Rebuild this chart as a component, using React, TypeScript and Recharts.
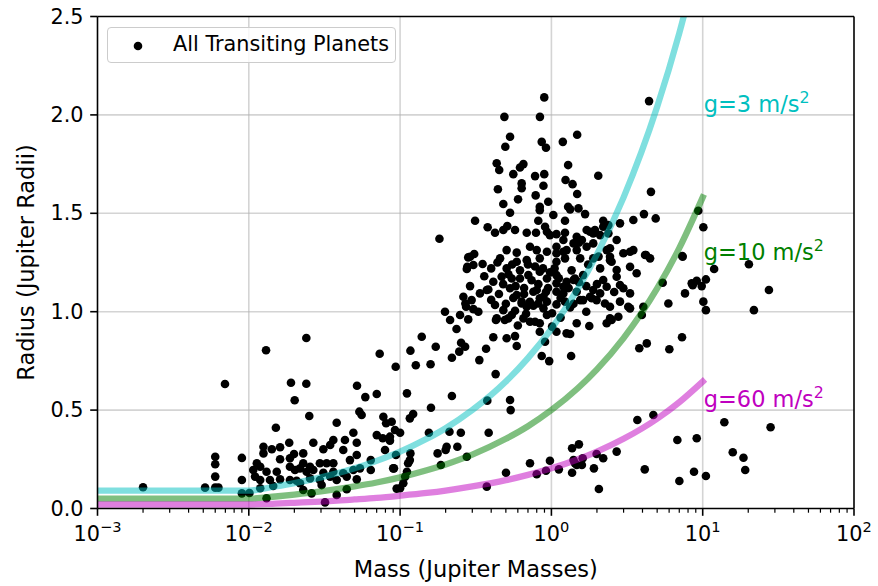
import React from 'react';
import {
  ComposedChart,
  XAxis,
  YAxis,
  Scatter,
  Line,
  ReferenceLine,
  ReferenceDot,
  Legend,
  Label,
} from 'recharts';

const FONT = '"DejaVu Sans", "Liberation Sans", sans-serif';

// Planet masses (Jupiter masses) and radii (Jupiter radii), grouped by mass range.
const planetsBelowTenth: [number, number][] = [
  [0.002, 0.108], [0.00696, 0.633], [0.00514, 0.106], [0.006, 0.263], [0.006, 0.225], [0.006, 0.162],
  [0.006, 0.106], [0.0063, 0.106], [0.009, 0.257], [0.009, 0.145], [0.009, 0.077], [0.0101, 0.079],
  [0.013, 0.804], [0.024, 0.866], [0.019, 0.639], [0.024, 0.634], [0.0201, 0.55], [0.0251, 0.47],
  [0.0151, 0.41], [0.0733, 0.786], [0.0935, 0.72], [0.0519, 0.624], [0.0589, 0.566], [0.0701, 0.582],
  [0.0381, 0.436], [0.0538, 0.492], [0.0557, 0.475], [0.0775, 0.466], [0.0808, 0.433], [0.088, 0.441],
  [0.0925, 0.399], [0.0491, 0.385], [0.0701, 0.373], [0.0768, 0.357], [0.0857, 0.344], [0.0795, 0.297],
  [0.09, 0.204], [0.0949, 0.101], [0.064, 0.246], [0.064, 0.196], [0.0432, 0.348], [0.0362, 0.348],
  [0.0345, 0.323], [0.0125, 0.314], [0.0142, 0.301], [0.0161, 0.311], [0.0185, 0.334], [0.0229, 0.28],
  [0.0267, 0.334], [0.0311, 0.301], [0.0421, 0.297], [0.0517, 0.334], [0.0113, 0.23], [0.0125, 0.28],
  [0.0161, 0.25], [0.0187, 0.255], [0.0199, 0.277], [0.0229, 0.23], [0.0254, 0.212], [0.0295, 0.23],
  [0.0327, 0.23], [0.0362, 0.23], [0.0466, 0.246], [0.0517, 0.272], [0.0107, 0.196], [0.0119, 0.212],
  [0.0131, 0.187], [0.0153, 0.187], [0.0187, 0.212], [0.0202, 0.196], [0.0218, 0.204], [0.0241, 0.187],
  [0.0267, 0.196], [0.0311, 0.182], [0.0362, 0.187], [0.0421, 0.179], [0.0491, 0.196], [0.0543, 0.204],
  [0.011, 0.162], [0.0119, 0.145], [0.0138, 0.145], [0.0161, 0.148], [0.0187, 0.145], [0.0207, 0.141],
  [0.0254, 0.153], [0.0295, 0.145], [0.0345, 0.162], [0.0381, 0.145], [0.0444, 0.162], [0.0517, 0.148],
  [0.0119, 0.103], [0.0145, 0.114], [0.0218, 0.128], [0.0229, 0.094], [0.026, 0.077], [0.0303, 0.119],
  [0.0381, 0.069], [0.0444, 0.098], [0.0131, 0.052], [0.0319, 0.031], [0.0857, 0.365], [0.0939, 0.272],
  [0.0911, 0.204],
];

const planetsBelowOne: [number, number][] = [
  [0.139, 0.873], [0.117, 0.802], [0.127, 0.728], [0.159, 0.733], [0.172, 0.822], [0.22, 0.766],
  [0.246, 0.797], [0.253, 0.842], [0.269, 0.822], [0.334, 0.754], [0.37, 0.812], [0.413, 0.87],
  [0.428, 0.683], [0.111, 0.585], [0.22, 0.572], [0.16, 0.512], [0.122, 0.48], [0.116, 0.458],
  [0.1, 0.385], [0.155, 0.385], [0.212, 0.39], [0.252, 0.385], [0.377, 0.548], [0.385, 0.385],
  [0.533, 0.551], [0.538, 0.5], [0.177, 0.28], [0.203, 0.314], [0.2, 0.297], [0.239, 0.314],
  [0.276, 0.263], [0.186, 0.221], [0.117, 0.28], [0.116, 0.246], [0.113, 0.23], [0.111, 0.187],
  [0.108, 0.162], [0.105, 0.128], [0.1, 0.103], [0.374, 0.111], [0.501, 0.182], [0.722, 0.23],
  [0.8, 0.174], [0.921, 0.192], [0.978, 0.243], [0.29, 1.279], [0.278, 1.228], [0.351, 1.242],
  [0.29, 1.13], [0.262, 1.076], [0.27, 1.042], [0.297, 1.059], [0.337, 1.093], [0.374, 1.11],
  [0.198, 1.0], [0.214, 0.958], [0.249, 0.983], [0.282, 0.961], [0.329, 1.0], [0.236, 0.912],
  [0.43, 0.958], [0.481, 1.008], [0.519, 0.966], [0.575, 1.005], [0.636, 1.042], [0.653, 0.966],
  [0.722, 0.949], [0.78, 0.949], [0.424, 1.034], [0.506, 0.865], [0.575, 0.876], [0.59, 0.826],
  [0.863, 0.775], [0.967, 0.749], [0.886, 1.076], [0.934, 1.051], [0.76, 1.101], [0.819, 1.042],
  [0.897, 2.089], [0.489, 1.99], [0.84, 1.99], [0.533, 1.889], [0.496, 1.838], [0.863, 1.863],
  [0.921, 1.833], [0.435, 1.754], [0.452, 1.72], [0.62, 1.733], [0.653, 1.75], [0.56, 1.699],
  [0.78, 1.689], [0.897, 1.699], [0.636, 1.652], [0.636, 1.627], [0.886, 1.64], [0.443, 1.622],
  [0.787, 1.591], [0.602, 1.571], [0.953, 1.559], [0.481, 1.547], [0.838, 1.533], [0.838, 1.516],
  [0.533, 1.503], [0.313, 1.462], [0.379, 1.429], [0.819, 1.462], [0.424, 1.401], [0.481, 1.415],
  [0.511, 1.435], [0.575, 1.415], [0.687, 1.401], [0.791, 1.401], [0.908, 1.432], [0.934, 1.406],
  [0.978, 1.389], [0.182, 1.371], [0.309, 1.293], [0.282, 1.276], [0.506, 1.313], [0.59, 1.3],
  [0.722, 1.33], [0.8, 1.313], [0.934, 1.305], [0.305, 1.237], [0.276, 1.217], [0.458, 1.271],
  [0.506, 1.22], [0.59, 1.254], [0.687, 1.262], [0.838, 1.271], [0.469, 1.178], [0.547, 1.169],
  [0.62, 1.169], [0.704, 1.186], [0.838, 1.203], [0.934, 1.169], [0.413, 1.152], [0.383, 1.113],
  [0.533, 1.119], [0.59, 1.085], [0.636, 1.051], [0.8, 1.11], [0.838, 1.068], [0.273, 1.025],
  [0.305, 1.013], [0.687, 1.025], [0.886, 1.017], [0.435, 0.966], [0.492, 0.958], [0.547, 0.983],
  [0.838, 0.941], [0.934, 0.983], [0.838, 0.898], [0.908, 0.847],
  [0.36, 1.18], [0.4, 1.22], [0.44, 1.25], [0.48, 1.14], [0.52, 1.19], [0.55, 1.24],
  [0.58, 1.13], [0.62, 1.21], [0.66, 1.12], [0.7, 1.24], [0.74, 1.16], [0.78, 1.23],
  [0.82, 1.14], [0.88, 1.22], [0.95, 1.12], [0.4, 1.06], [0.45, 1.09], [0.5, 1.04],
  [0.56, 1.07], [0.66, 1.09], [0.72, 1.05], [0.76, 1.03], [0.92, 1.1], [0.98, 1.2],
  [0.6, 0.93], [0.68, 0.99],
];

const planetsAboveOne: [number, number][] = [
  [1.12, 0.199], [1.37, 0.306], [1.52, 0.326], [1.4, 0.246], [1.43, 0.23], [1.47, 0.221],
  [1.61, 0.255], [1.59, 0.221], [1.37, 0.182], [1.91, 0.204], [1.99, 0.277], [2.2, 0.255],
  [2.06, 0.099], [2.7, 0.289], [3.7, 0.45], [4.72, 0.475], [4.14, 0.199], [6.8, 0.348],
  [7.01, 0.14], [9.13, 0.357], [8.76, 0.187], [1.01, 0.992], [1.01, 0.924], [1.08, 0.898],
  [1.26, 0.89], [1.33, 0.887], [1.35, 0.775], [1.47, 0.941], [1.78, 0.927], [1.33, 1.022],
  [1.08, 1.144], [1.2, 1.127], [1.4, 1.161], [1.2, 1.093], [1.55, 1.059], [1.8, 1.076],
  [2.1, 1.093], [1.99, 1.059], [2.26, 1.042], [2.44, 1.025], [2.32, 0.941], [2.5, 0.958],
  [2.77, 0.974], [3.22, 1.025], [2.7, 1.178], [2.84, 1.136], [3.31, 1.093], [3.31, 1.228],
  [3.66, 1.195], [2.44, 1.262], [2.99, 1.297], [4.16, 1.288], [3.81, 0.814], [4.27, 0.839],
  [5.44, 1.147], [5.93, 1.042], [6.02, 0.809], [7.3, 0.87], [7.37, 1.279], [7.64, 1.093],
  [8.46, 1.144], [9.13, 1.157], [4.05, 1.025], [3.96, 0.983], [11.9, 1.217], [20.2, 1.241],
  [8.59, 1.135], [9.85, 1.13], [10.5, 1.164], [27.4, 1.11], [10.1, 1.051], [10.5, 1.008],
  [21.8, 1.008], [13.9, 0.438], [28.1, 0.413], [15.8, 0.286], [18.6, 0.258], [19.1, 0.196],
  [10.5, 0.165], [9.35, 1.513], [10.1, 1.429], [1.19, 1.863], [1.48, 1.899], [4.42, 2.07],
  [1.29, 1.745], [2.04, 1.691], [1.24, 1.669], [1.38, 1.648], [1.48, 1.598], [4.55, 1.609],
  [1.29, 1.533], [1.33, 1.52], [1.51, 1.525], [1.67, 1.496], [1.03, 1.491], [4.09, 1.496],
  [4.89, 1.474], [3.48, 1.466], [1.23, 1.462], [2.2, 1.462], [2.84, 1.449], [2.38, 1.398],
  [1.08, 1.394], [1.23, 1.401], [1.47, 1.381], [1.59, 1.364], [1.8, 1.406], [1.94, 1.415],
  [1.08, 1.297], [1.2, 1.305], [1.4, 1.347], [1.47, 1.313], [1.71, 1.33], [1.89, 1.347],
  [2.32, 1.313], [2.44, 1.279], [3.31, 1.305], [3.48, 1.313], [4.22, 1.288], [7.33, 1.283],
  [1.08, 1.254], [1.23, 1.271], [1.55, 1.271], [1.89, 1.271], [2.5, 1.254], [1.08, 1.186],
  [1.26, 1.152], [1.43, 1.169], [1.62, 1.186], [2.1, 1.22], [2.2, 1.161], [2.7, 1.212],
  [1.08, 1.101], [1.47, 1.101], [1.89, 1.11], [2.32, 1.127], [2.99, 1.119], [1.23, 1.051],
  [1.62, 1.059], [1.85, 1.068], [2.84, 1.051], [1.08, 1.037], [2.44, 0.966], [3.31, 1.017],
  [1.2, 1.364], [1.08, 1.33], [1.26, 1.313], [1.52, 1.35], [1.71, 1.415], [1.89, 1.398],
  [2.1, 1.389], [2.2, 1.432], [2.38, 1.44], [2.44, 1.322], [2.7, 1.364], [4.49, 1.271],
  [1.05, 1.22], [1.12, 1.17], [1.15, 1.07], [1.3, 1.12], [1.36, 1.21], [1.52, 1.15],
  [1.7, 1.13], [1.75, 1.24], [2.0, 1.14], [2.05, 1.28], [1.4, 1.04], [1.7, 1.0],
  [2.6, 1.1], [1.15, 0.97],
];

// Constant surface-gravity curves: radius at each sampled mass.
const curveMass = [0.001, 0.01, 0.015, 0.02, 0.03, 0.05, 0.07, 0.1, 0.15, 0.2, 0.3, 0.5, 0.7, 1, 1.5, 2, 3, 5, 7, 10];
const radiusG3 = [0.091, 0.091, 0.112, 0.129, 0.158, 0.204, 0.242, 0.289, 0.354, 0.408, 0.5, 0.645, 0.764, 0.913, 1.118, 1.291, 1.581, 2.041, 2.415, 2.887];
const radiusG10 = [0.05, 0.05, 0.061, 0.071, 0.087, 0.112, 0.132, 0.158, 0.194, 0.224, 0.274, 0.354, 0.418, 0.5, 0.612, 0.707, 0.866, 1.118, 1.323, 1.581];
const radiusG60 = [0.0204, 0.0204, 0.025, 0.029, 0.035, 0.046, 0.054, 0.065, 0.079, 0.091, 0.112, 0.144, 0.171, 0.204, 0.25, 0.289, 0.354, 0.456, 0.54, 0.645];

const curveLabels = [
  { text: 'g=3 m/s', color: '#00bfbf', at: 2.0 },
  { text: 'g=10 m/s', color: '#008000', at: 1.25 },
  { text: 'g=60 m/s', color: '#bf00bf', at: 0.5 },
];

const xMajorTicks = [0.001, 0.01, 0.1, 1, 10, 100];
const xMinorMultipliers = [2, 3, 4, 5, 6, 7, 8, 9];
const xGridLines = [0.01, 0.1, 1, 10];
const yTicks = [0, 0.5, 1, 1.5, 2, 2.5];
const yGridLines = [0.5, 1, 1.5, 2];

const xMinorTicks = xMajorTicks.slice(0, -1).flatMap((d) => xMinorMultipliers.map((k) => +(k * d).toPrecision(3)));
const xAllTicks = [...xMajorTicks, ...xMinorTicks].sort((a, b) => a - b);

const planets = [...planetsBelowTenth, ...planetsBelowOne, ...planetsAboveOne].map(([m, r]) => ({ m, r }));
const toCurve = (radii: number[]) => curveMass.map((m, i) => ({ m, r: radii[i] }));

const isMajor = (v: number) => xMajorTicks.some((t) => Math.abs(t - v) < t * 1e-6);

const XTick = (props: any) => {
  const { x, y, payload } = props;
  const v = payload.value as number;
  const major = isMajor(v);
  if (!major) {
    return <line x1={x} y1={y} x2={x} y2={y + 4.2} stroke="#000" strokeWidth={1.2} />;
  }
  const exp = Math.round(Math.log10(v));
  const expText = exp < 0 ? `\u2212${-exp}` : `${exp}`;
  return (
    <g>
      <line x1={x} y1={y} x2={x} y2={y + 7.3} stroke="#000" strokeWidth={1.6} />
      <text x={x} y={y + 32} textAnchor="middle" fontFamily={FONT} fontSize={20.8} fill="#000">
        <tspan>10</tspan>
        <tspan dy={-9} fontSize={14.6}>{expText}</tspan>
      </text>
    </g>
  );
};

const YTick = (props: any) => {
  const { x, y, payload } = props;
  return (
    <g>
      <line x1={x - 7.3} y1={y} x2={x} y2={y} stroke="#000" strokeWidth={1.6} />
      <text x={x - 14} y={y + 7} textAnchor="end" fontFamily={FONT} fontSize={20.8} fill="#000">
        {(payload.value as number).toFixed(1)}
      </text>
    </g>
  );
};

const XTitle = (props: any) => {
  const vb = props.viewBox;
  return (
    <text x={vb.x + vb.width / 2} y={vb.y + 68} textAnchor="middle" fontFamily={FONT} fontSize={22.5} fill="#000">
      Mass (Jupiter Masses)
    </text>
  );
};

const YTitle = (props: any) => {
  const vb = props.viewBox;
  const cx = vb.x - 4;
  const cy = vb.y + vb.height / 2;
  return (
    <text
      x={cx}
      y={cy}
      transform={`rotate(-90 ${cx} ${cy})`}
      textAnchor="middle"
      fontFamily={FONT}
      fontSize={22.5}
      fill="#000"
    >
      Radius (Jupiter Radii)
    </text>
  );
};

const makeCurveLabel = (text: string, color: string) => (props: any) => {
  const vb = props.viewBox;
  return (
    <text x={vb.x + 1} y={vb.y - 3} fontFamily={FONT} fontSize={22.5} fill={color}>
      <tspan>{text}</tspan>
      <tspan dy={-9} fontSize={15.8}>2</tspan>
    </text>
  );
};

const LegendBox = () => (
  <div
    style={{
      boxSizing: 'border-box',
      width: 289,
      height: 36,
      border: '1.3px solid #cccccc',
      borderRadius: 4,
      background: 'rgba(255,255,255,0.8)',
      position: 'relative',
      fontFamily: FONT,
      fontSize: 20.8,
      color: '#000',
    }}
  >
    <svg style={{ position: 'absolute', left: 25, top: 13 }} width={10} height={10}>
      <circle cx={5} cy={5} r={4.3} fill="#000" />
    </svg>
    <span style={{ position: 'absolute', left: 65, top: 4, lineHeight: '24px', whiteSpace: 'nowrap' }}>
      All Transiting Planets
    </span>
  </div>
);

const Dot = (props: any) => <circle cx={props.cx} cy={props.cy} r={4.3} fill="#000" />;

export default function App() {
  return (
    <div style={{ position: 'absolute', left: 0, top: 0, width: 878, height: 586, background: '#fff' }}>
      <ComposedChart width={878} height={586} margin={{ top: 16.5, right: 24, bottom: 17.5, left: 37.5 }}>
        <XAxis
          dataKey="m"
          type="number"
          scale="log"
          domain={[0.001, 100]}
          allowDataOverflow
          ticks={xAllTicks}
          interval={0}
          tick={<XTick />}
          tickLine={false}
          tickSize={0}
          tickMargin={0}
          axisLine={{ stroke: '#000', strokeWidth: 1.6 }}
          height={60}
          label={<Label content={<XTitle />} />}
        />
        <YAxis
          dataKey="r"
          type="number"
          domain={[0, 2.5]}
          allowDataOverflow
          ticks={yTicks}
          interval={0}
          tick={<YTick />}
          tickLine={false}
          tickSize={0}
          tickMargin={0}
          axisLine={{ stroke: '#000', strokeWidth: 1.6 }}
          width={60}
          label={<Label content={<YTitle />} />}
        />
        {xGridLines.map((v) => (
          <ReferenceLine key={`gx${v}`} x={v} stroke="#b0b0b0" strokeOpacity={0.55} strokeWidth={1.6} zIndex={-100} />
        ))}
        {yGridLines.map((v) => (
          <ReferenceLine key={`gy${v}`} y={v} stroke="#b0b0b0" strokeOpacity={0.55} strokeWidth={1.6} zIndex={-100} />
        ))}
        <Scatter data={planets} fill="#000" shape={<Dot />} isAnimationActive={false} zIndex={300} />
        <Line data={toCurve(radiusG3)} dataKey="r" type="monotone" stroke="#00bfbf" strokeOpacity={0.5} strokeWidth={6.3} strokeLinecap="square" dot={false} activeDot={false} isAnimationActive={false} />
        <Line data={toCurve(radiusG10)} dataKey="r" type="monotone" stroke="#008000" strokeOpacity={0.5} strokeWidth={6.3} strokeLinecap="square" dot={false} activeDot={false} isAnimationActive={false} />
        <Line data={toCurve(radiusG60)} dataKey="r" type="monotone" stroke="#bf00bf" strokeOpacity={0.5} strokeWidth={6.3} strokeLinecap="square" dot={false} activeDot={false} isAnimationActive={false} />
        {curveLabels.map((c) => (
          <ReferenceDot key={c.text} x={10} y={c.at} r={0} fill="none" stroke="none" label={makeCurveLabel(c.text, c.color)} />
        ))}
        <ReferenceLine y={2.5} stroke="#000" strokeWidth={1.6} zIndex={500} />
        <ReferenceLine x={100} stroke="#000" strokeWidth={1.6} zIndex={500} />
        <Legend
          layout="horizontal"
          verticalAlign="middle"
          align="center"
          content={<LegendBox />}
          wrapperStyle={{ left: 107, top: 27, width: 289, height: 36 }}
        />
      </ComposedChart>
    </div>
  );
}
